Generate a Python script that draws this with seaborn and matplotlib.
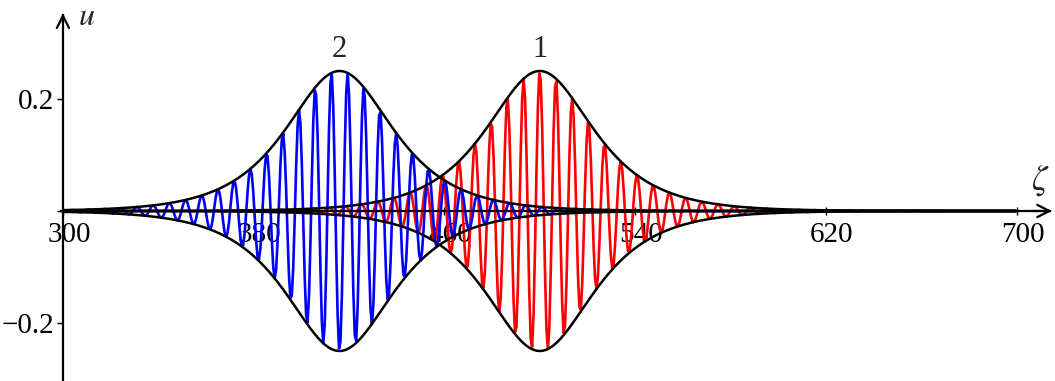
import numpy as np
import pandas as pd
import matplotlib
matplotlib.use("Agg")
import matplotlib.pyplot as plt
import matplotlib.transforms as mtransforms
import seaborn as sns

# Wave packet parameters
packet_names = ["1", "2"]
packet_colors = ["#ff0000", "#0000ff"]
packet_centers = [500.0, 416.0]
packet_amplitudes = [0.25, 0.25]
packet_widths = [20.0, 20.0]
packet_wavelengths = [6.8, 6.8]
packet_phases = [0.0, np.pi]

x_ticks = [300, 380, 460, 540, 620, 700]
y_ticks = [-0.2, 0.2]
y_tick_labels = ["\u22120.2", "0.2"]

# Build the curves
zeta = np.arange(300, 700.01, 0.6)
frames = []
for name, c, a, w, lam, ph in zip(packet_names, packet_centers, packet_amplitudes,
                                  packet_widths, packet_wavelengths, packet_phases):
    env = a / np.cosh((zeta - c) / w)
    u = env * np.cos(2 * np.pi * (zeta - c) / lam + ph)
    frames.append(pd.DataFrame({"zeta": zeta, "u": u, "env": env, "packet": name}))
df = pd.concat(frames, ignore_index=True)

sns.set_theme(style="white")
plt.rcParams["font.family"] = ["Liberation Serif", "DejaVu Serif"]
plt.rcParams["mathtext.fontset"] = "stix"

fig = plt.figure(figsize=(10.55, 3.81), dpi=100)
ax = fig.add_axes([0, 0, 1, 1])
ax.set_facecolor("white")

# Carrier waves
for name, color in zip(packet_names, packet_colors):
    sub = df[df["packet"] == name]
    sns.lineplot(data=sub, x="zeta", y="u", color=color, linewidth=1.9,
                 estimator=None, sort=False, ax=ax, zorder=2)

# Envelopes
for name in packet_names:
    sub = df[df["packet"] == name]
    sns.lineplot(x=sub["zeta"], y=sub["env"], color="black", linewidth=1.8,
                 estimator=None, ax=ax, zorder=3)
    sns.lineplot(x=sub["zeta"], y=-sub["env"], color="black", linewidth=1.8,
                 estimator=None, ax=ax, zorder=3)

ax.set_xlim(273.6, 716.1)
ax.set_ylim(-0.3036, 0.3768)

# Axes through the origin
for side in ["top", "right"]:
    ax.spines[side].set_visible(False)
ax.spines["left"].set_position(("data", 300))
ax.spines["bottom"].set_position(("data", 0))
ax.spines["left"].set_bounds(-0.31, 0.35)
ax.spines["bottom"].set_bounds(299, 714)
for side in ["left", "bottom"]:
    ax.spines[side].set_color("black")
    ax.spines[side].set_linewidth(1.6)
    ax.spines[side].set_zorder(4)

ax.annotate("", xy=(716, 0), xytext=(705, 0),
            arrowprops=dict(arrowstyle="->", color="black", lw=1.6,
                            mutation_scale=22), zorder=5)
ax.annotate("", xy=(300, 0.358), xytext=(300, 0.33),
            arrowprops=dict(arrowstyle="->", color="black", lw=1.6,
                            mutation_scale=22), zorder=5)

ax.set_xticks(x_ticks)
ax.set_xticklabels([str(t) for t in x_ticks])
ax.set_yticks([-0.2, 0.0, 0.2])
ax.set_yticklabels([y_tick_labels[0], "", y_tick_labels[1]])
ax.tick_params(axis="x", direction="inout", length=6, width=1, pad=5,
               labelsize=21, colors="black", bottom=True)
ax.tick_params(axis="y", direction="out", length=4, width=1, pad=2,
               labelsize=21, colors="black", left=True)
offset = mtransforms.ScaledTranslation(6 / 100, 0, fig.dpi_scale_trans)
for lab in ax.get_xticklabels():
    lab.set_transform(lab.get_transform() + offset)
ax.set_xlabel("")
ax.set_ylabel("")

# Labels
ax.text(306.5, 0.345, "$u$", fontsize=23, ha="left", va="center")
ax.text(710, 0.055, "$\\zeta$", fontsize=25, ha="center", va="center")
for name, c, a in zip(packet_names, packet_centers, packet_amplitudes):
    ax.text(c, a + 0.012, name, fontsize=22, ha="center", va="bottom")

fig.savefig("out.png", dpi=100)
